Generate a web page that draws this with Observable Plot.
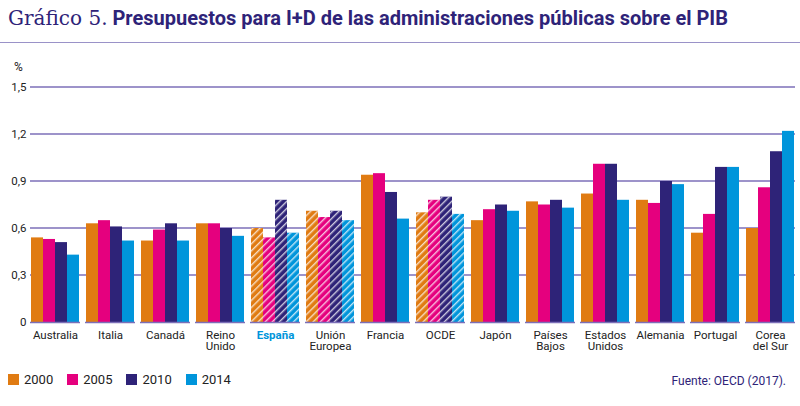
<!DOCTYPE html>
<html><head><meta charset="utf-8">
<script src="https://cdn.jsdelivr.net/npm/d3@7"></script>
<script src="https://cdn.jsdelivr.net/npm/@observablehq/plot@0.6"></script>
<style>
body{margin:0;background:#fff;font-family:Roboto,"Liberation Sans",sans-serif;width:800px;height:406px;position:relative;overflow:hidden}
#title{position:absolute;left:8px;top:6px;font-size:20px;color:#2e2378;white-space:nowrap}
#title .n{font-family:"DejaVu Serif","Liberation Serif",serif;font-weight:300;color:#2e2378}
#title b{font-family:Roboto,sans-serif;font-weight:700}
#rule{position:absolute;left:0;top:42px;width:800px;height:1px;background:#9a92c8}
#pct{position:absolute;left:14px;top:60px;font-size:12px;color:#222}
#chart{position:absolute;left:0;top:55px}
#legend{position:absolute;left:8px;top:372px;font-size:13px;color:#222;display:flex;gap:14px}
#legend span{display:inline-flex;align-items:center;gap:5px}
#legend i{display:inline-block;width:11px;height:11px}
#src{position:absolute;right:14px;top:374px;font-size:12px;color:#2e2378}
</style></head><body>
<div id="title"><span class="n">Gráfico 5.</span> <b>Presupuestos para I+D de las administraciones públicas sobre el PIB</b></div>
<div id="rule"></div>
<div id="pct">%</div>
<div id="chart"></div>
<div id="legend"></div>
<div id="src">Fuente: OECD (2017).</div>
<script>
const countries=["Australia","Italia","Canadá","Reino\nUnido","España","Unión\nEuropea","Francia","OCDE","Japón","Países\nBajos","Estados\nUnidos","Alemania","Portugal","Corea\ndel Sur"];
const years=["2000","2005","2010","2014"];
const colors=["#e07b12","#e5007e","#2e2378","#0095db"];
const v2000=[0.54,0.63,0.52,0.63,0.60,0.71,0.94,0.70,0.65,0.77,0.82,0.78,0.57,0.60];
const v2005=[0.53,0.65,0.59,0.63,0.54,0.67,0.95,0.78,0.72,0.75,1.01,0.76,0.69,0.86];
const v2010=[0.51,0.61,0.63,0.60,0.78,0.71,0.83,0.80,0.75,0.78,1.01,0.90,0.99,1.09];
const v2014=[0.43,0.52,0.52,0.55,0.57,0.65,0.66,0.69,0.71,0.73,0.78,0.88,0.99,1.22];
const hatched=["España","Unión\nEuropea","OCDE"];
const series=[v2000,v2005,v2010,v2014];
const data=[];
countries.forEach((c,i)=>years.forEach((y,j)=>data.push({country:c,year:y,value:series[j][i]})));
const plot=Plot.plot({
  width:800,height:312,marginLeft:30,marginRight:5,marginTop:32,marginBottom:45,
  fx:{domain:countries,padding:0.1,label:null,axis:"bottom",tickSize:0,tickPadding:8},
  x:{domain:years,axis:null,padding:0.04},
  y:{domain:[0,1.5],ticks:[0,0.3,0.6,0.9,1.2,1.5],tickFormat:d=>d3.format(".1f")(d).replace(".",",").replace(/^0,0$/,"0"),label:null,tickSize:0,tickPadding:4},
  color:{domain:years,range:colors},
  style:{fontSize:"11.5px",fontFamily:"Roboto,sans-serif",color:"#222"},
  marks:[
    Plot.barY(data,{fx:"country",x:"year",y:"value",fill:"year"}),
    Plot.barY(data.filter(d=>hatched.includes(d.country)),{fx:"country",x:"year",y:"value",fill:"url(#hatch)"}),
    Plot.ruleY([0],{stroke:"#7c6fb8",strokeWidth:1.5})
  ]
});
const svg=d3.select(plot);
svg.insert("defs",":first-child").html('<pattern id="hatch" patternUnits="userSpaceOnUse" width="5" height="5" patternTransform="rotate(45)"><rect x="0" y="0" width="1.4" height="5" fill="rgba(255,255,255,0.75)"/></pattern>');
svg.selectAll("text").filter(function(){return this.textContent==="España"}).attr("fill","#0095db").style("font-weight","700");
document.getElementById("chart").appendChild(plot);
const g=svg.insert("g","defs + *");
const yS=plot.scale("y");
[0.3,0.6,0.9,1.2,1.5].forEach(t=>{const yy=yS.apply(t);g.append("line").attr("x1",30).attr("x2",795).attr("y1",yy).attr("y2",yy).attr("stroke","#7c6fb8").attr("stroke-width",1.3);});
const lg=document.getElementById("legend");
years.forEach((y,i)=>{lg.innerHTML+=`<span><i style="background:${colors[i]}"></i>${y}</span>`});
</script>
</body></html>
